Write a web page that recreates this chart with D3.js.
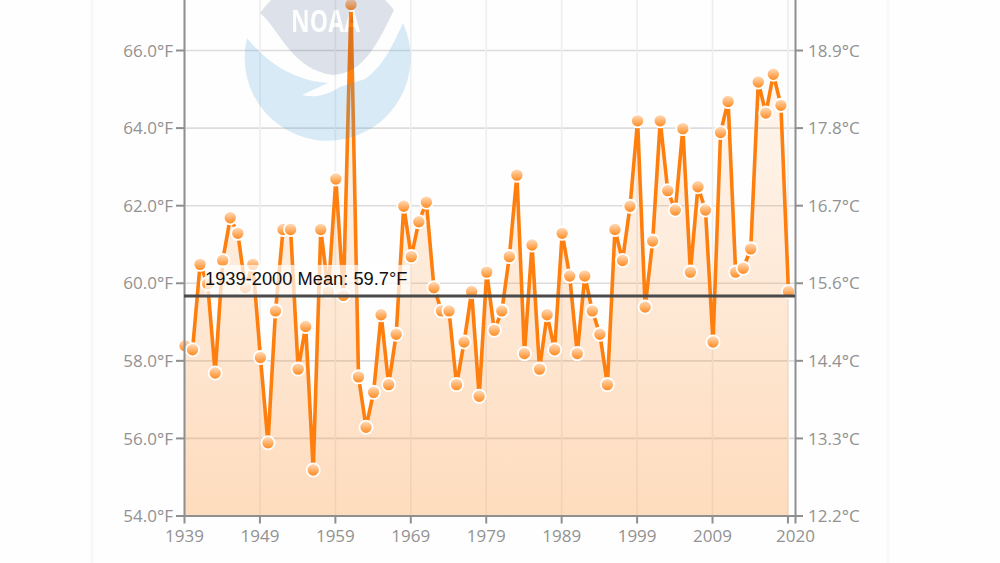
<!doctype html>
<html lang="en">
<head>
<meta charset="utf-8">
<title>1939-2020 Mean Temperature</title>
<script src="https://d3js.org/d3.v7.min.js"></script>
<style>
	html, body { margin: 0; padding: 0; background: #fefefe; overflow: hidden; }
	svg { display: block; }
	.axis text { font-family: "Open Sans", sans-serif; font-size: 17px; fill: #929292; }
	.axis line, .axis path { stroke: #8f8f8f; stroke-width: 2; }
	.grid text { display: none; }
	.grid path { display: none; }
</style>
</head>
<body>
<svg width="1000" height="563"></svg>
<script>
const years = d3.range(1939, 2020);
const temps = [
	58.4, 58.3, 60.5, 60.0, 57.7, 60.6, 61.7, 61.3, 59.9, 60.5,
	58.1, 55.9, 59.3, 61.4, 61.4, 57.8, 58.9, 55.2, 61.4, 59.8,
	62.7, 59.7, 67.2, 57.6, 56.3, 57.2, 59.2, 57.4, 58.7, 62.0,
	60.7, 61.6, 62.1, 59.9, 59.3, 59.3, 57.4, 58.5, 59.8, 57.1,
	60.3, 58.8, 59.3, 60.7, 62.8, 58.2, 61.0, 57.8, 59.2, 58.3,
	61.3, 60.2, 58.2, 60.2, 59.3, 58.7, 57.4, 61.4, 60.6, 62.0,
	64.2, 59.4, 61.1, 64.2, 62.4, 61.9, 64.0, 60.3, 62.5, 61.9,
	58.5, 63.9, 64.7, 60.3, 60.4, 60.9, 65.2, 64.4, 65.4, 64.6,
	59.8
];
const meanValue = 59.66;
const meanLabel = "1939-2000 Mean: 59.7°F";
const fTicks = [54, 56, 58, 60, 62, 64, 66];
const cLabels = ["12.2", "13.3", "14.4", "15.6", "16.7", "17.8", "18.9"];
const xTicks = [1939, 1949, 1959, 1969, 1979, 1989, 1999, 2009, 2019, 2020];

const orange = "#ff7f0e";
const svg = d3.select("svg");
const left = 184, right = 795, bottom = 515.5;

const x = d3.scaleLinear().domain([1939, 2020]).range([left, right]);
const y = d3.scaleLinear().domain([54, 68]).range([bottom, bottom - 14 * 38.79]);

const defs = svg.append("defs");

const areaGrad = defs.append("linearGradient").attr("id", "areaGrad")
	.attr("gradientUnits", "userSpaceOnUse")
	.attr("x1", 0).attr("x2", 0).attr("y1", 0).attr("y2", bottom);
areaGrad.append("stop").attr("offset", 0).attr("stop-color", orange).attr("stop-opacity", 0.03);
areaGrad.append("stop").attr("offset", 1).attr("stop-color", orange).attr("stop-opacity", 0.27);

const dotGrad = defs.append("linearGradient").attr("id", "dotGrad")
	.attr("x1", 0).attr("x2", 0).attr("y1", 0).attr("y2", 1);
dotGrad.append("stop").attr("offset", 0).attr("stop-color", "#ffe0c4");
dotGrad.append("stop").attr("offset", 1).attr("stop-color", "#ff8514");

// NOAA text is knocked out of the grey part of the logo
const logoMask = defs.append("mask").attr("id", "logoMask")
	.attr("maskUnits", "userSpaceOnUse")
	.attr("x", 230).attr("y", -30).attr("width", 200).attr("height", 200);
logoMask.append("rect").attr("x", 230).attr("y", -30).attr("width", 200).attr("height", 200).attr("fill", "#fff");
logoMask.append("text").attr("x", 291).attr("y", 32)
	.attr("textLength", 69).attr("lengthAdjust", "spacingAndGlyphs")
	.attr("fill", "#000")
	.style("font-family", "'Open Sans', sans-serif").style("font-size", "30px").style("font-weight", 700)
	.text("NOAA");

// side edges of the page panel
svg.selectAll(".edge").data([92, 888]).enter().append("line")
	.attr("class", "edge")
	.attr("x1", d => d).attr("x2", d => d).attr("y1", 0).attr("y2", 563)
	.attr("stroke", "#f8f8f8").attr("stroke-width", 3);

// grid
svg.append("g").attr("class", "grid").attr("transform", `translate(${left},0)`)
	.call(d3.axisRight(y).tickValues(fTicks).tickSize(right - left))
	.selectAll("line").attr("stroke", "#dcdcdc").attr("stroke-width", 1.6);

svg.append("g").attr("class", "grid").attr("transform", `translate(0,${bottom})`)
	.call(d3.axisTop(x).tickValues(xTicks.slice(0, -1)).tickSize(bottom + 5))
	.selectAll("line").attr("stroke", "#eeeeee").attr("stroke-width", 1.6);

// area and line, nudged 1px to sit where the original marks sit
const marks = svg.append("g").attr("transform", "translate(1,1)");
const area = d3.area().x((d, i) => x(years[i])).y0(bottom - 1).y1(d => y(d));
const line = d3.line().x((d, i) => x(years[i])).y(d => y(d));

marks.append("path").datum(temps).attr("d", area).attr("fill", "url(#areaGrad)");
marks.append("path").datum(temps).attr("d", line)
	.attr("fill", "none").attr("stroke", orange).attr("stroke-width", 3.6).attr("stroke-linejoin", "bevel");

marks.selectAll(".dot").data(temps).enter().append("circle")
	.attr("class", "dot")
	.attr("cx", (d, i) => x(years[i])).attr("cy", d => y(d)).attr("r", 6.6)
	.attr("fill", "url(#dotGrad)").attr("stroke", "#fff").attr("stroke-width", 1.8);

// axes
svg.append("g").attr("class", "axis").attr("transform", `translate(${left},0)`)
	.call(d3.axisLeft(y).tickValues(fTicks).tickSize(8).tickPadding(3).tickSizeOuter(0).tickFormat(d => d.toFixed(1) + "°F"))
	.selectAll("text").attr("dy", "0.36em");

svg.append("g").attr("class", "axis").attr("transform", `translate(${right},0)`)
	.call(d3.axisRight(y).tickValues(fTicks).tickSize(8).tickPadding(5).tickSizeOuter(0).tickFormat((d, i) => cLabels[i] + "°C"))
	.selectAll("text").attr("dy", "0.36em");

svg.append("g").attr("class", "axis").attr("transform", `translate(0,${bottom})`)
	.call(d3.axisBottom(x).tickValues(xTicks).tickSize(8).tickPadding(6).tickSizeOuter(0).tickFormat(d => d === 2019 ? "" : d));

// mean line and its label
const labelBg = svg.append("rect").attr("fill", "#fff").attr("opacity", 0.7);
const label = svg.append("text")
	.attr("x", 205).attr("y", y(meanValue) - 11)
	.attr("fill", "#111")
	.style("font-family", "'Liberation Sans', Arial, sans-serif").style("font-size", "18.3px")
	.text(meanLabel);
const box = label.node().getBBox();
labelBg.attr("x", box.x).attr("y", box.y - 3).attr("width", box.width + 3).attr("height", y(meanValue) - box.y + 3);

svg.append("line")
	.attr("x1", left).attr("x2", right).attr("y1", y(meanValue)).attr("y2", y(meanValue))
	.attr("stroke", "#4a4a4a").attr("stroke-width", 3);

// logo watermark sits over the chart
const logo = svg.append("g");
logo.append("path")
	.attr("d", "M260,13 C280,30 292,70 333,75 C365,73 378,42 394,10 A83,83 0 0 0 260,13 Z")
	.attr("fill", "#1f3a7a").attr("fill-opacity", 0.15).attr("mask", "url(#logoMask)");
logo.append("path")
	.attr("d", "M247,38 C265,60 290,80 328,83 L302,95 C315,98 325,96 340,87 L365,79 C385,65 395,40 403,23 A83,83 0 1 1 247,38 Z")
	.attr("fill", "#3d9ad6").attr("fill-opacity", 0.2);
</script>
</body>
</html>
